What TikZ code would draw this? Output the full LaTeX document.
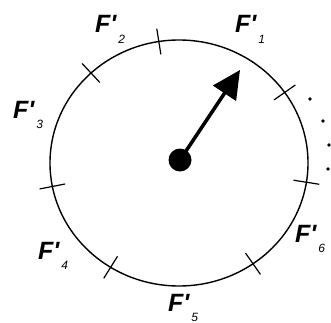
\documentclass[tikz,border=0pt]{standalone}
\usepackage{fontspec}
\usepackage{tikz}
\usetikzlibrary{arrows.meta,positioning,calc}
\newfontfamily\labfont{Liberation Sans}
\newcommand{\flabel}[1]{F'\kern2pt\raisebox{-10pt}{\mdseries\fontsize{12}{12}\selectfont #1}}
\tikzset{
  rim/.style={draw=black, line width=1.4pt},
  tick/.style={draw=black, line width=1.2pt},
  hub/.style={circle, fill=black, inner sep=0pt, minimum size=23pt},
  lab/.style={font=\labfont\bfseries\itshape\fontsize{25}{25}\selectfont, inner sep=0pt, anchor=base west},
  dotmark/.style={circle, fill=black, inner sep=0pt, minimum size=3.6pt},
  pointer/.style={-{Triangle[length=28pt,width=27pt]}, line width=3.5pt, draw=black}
}
\begin{document}
\begin{tikzpicture}[x=1pt,y=1pt]
  \useasboundingbox (0,0) rectangle (331,322);
  \coordinate (c) at (179,159);
  \draw[rim] (c) ellipse [x radius=129pt, y radius=123pt];
  \foreach \a in {35,99,133,191,238,305,351}
    \draw[tick] ($(c)+(\a:116pt and 110pt)$) -- ($(c)+(\a:142pt and 136pt)$);

  \node[hub] (hub) at (180,162) {};
  \coordinate (tip) at (240,252);
  \draw[pointer] (hub.center) -- (tip);

  \node[lab] (f1) at (235,289) {\flabel{1}};
  \node[lab] (f2) at (95,289) {\flabel{2}};
  \node[lab] (f3) at (13,204) {\flabel{3}};
  \node[lab] (f4) at (38,63) {\flabel{4}};
  \node[lab] (f5) at (168,11) {\flabel{5}};
  \node[lab] (f6) at (295,80) {\flabel{6}};

  \node[dotmark] (d1) at (310,223) {};
  \node[dotmark] (d2) at (323,201) {};
  \node[dotmark] (d3) at (329,177) {};
  \node[dotmark] (d4) at (328,153) {};
\end{tikzpicture}
\end{document}
